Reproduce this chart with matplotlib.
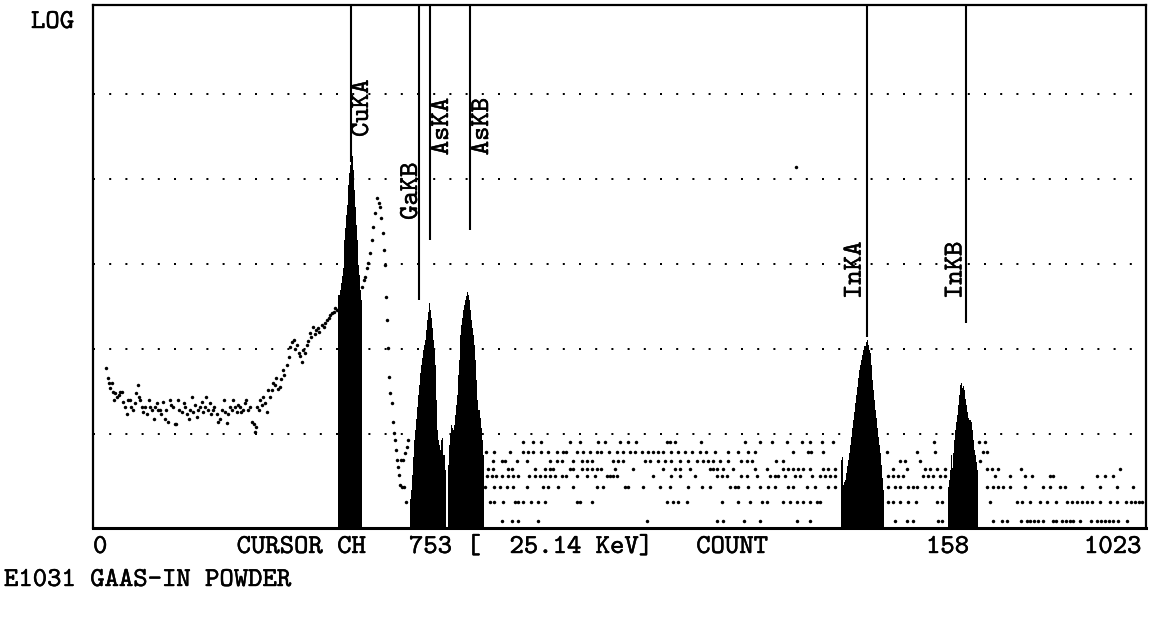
import matplotlib
matplotlib.use('Agg')
import matplotlib.pyplot as plt
import matplotlib.patheffects as pe
from matplotlib.transforms import offset_copy
import numpy as np

# MCA spectrum printout, log counts vs channel (0..1023)
# printer font is a serif monospace -> Computer Modern Typewriter shipped with matplotlib
# (advance 0.525 em, so 19.7 pt gives the 14.3 px character cell of the printout)
MONO = 'cmtt10'
FS = 19.7
INK = [pe.withStroke(linewidth=0.3, foreground='k')]

# filled ROI peaks: first channel + counts per channel
cu_start = 238
cu_counts = [288, 433, 494, 596, 720, 890, 1915, 2650, 3770, 4940, 8500, 11800,
             14600, 17700, 18700, 12800, 7430, 4690, 2880, 1915, 973, 743, 494, 377]
ga_start = 308
ga_counts = [1.7, 2.2, 3.3, 5.4, 8.5, 11, 15, 21, 29, 38, 52, 65, 78, 97, 111, 128,
             167, 219, 272, 348, 286, 232, 177, 128, 97, 65, 25, 11, 8.5, 7.4, 6.5,
             8.5, 9, 5.7, 3.8, 1.9]
as_start = 345
as_counts = [4.3, 7.4, 10.3, 12.8, 11.8, 11.1, 12.8, 16.7, 22, 29, 49, 74, 146, 192,
             232, 288, 329, 377, 418, 470, 430, 377, 288, 219, 177, 146, 111, 74, 43,
             25, 19, 15.4, 11.8, 8.5, 5.7, 2.9]
inka_start = 727
inka_counts = [4.9, 5.4, 2.5, 2.7, 2.9, 3.5, 4.2, 4.9, 6.0, 7.4, 9.2, 11.8, 14.6, 18,
               23, 29, 36, 45, 57, 65, 74, 85, 97, 108, 121, 128, 111, 97, 90, 65, 43,
               33, 25, 19, 15.4, 11.8, 9.2, 7.4, 6.0, 4.3, 3.0, 2.2]
inkb_start = 831
inkb_counts = [2.4, 2.9, 3.8, 5.7, 4.0, 6.0, 8.5, 11.1, 13.8, 16.7, 22, 29, 38, 40, 35,
               37, 33, 26, 22, 18, 15.4, 14.6, 13.8, 11.1, 8.5, 6.5, 5.7, 4.7, 3.8, 2.9]

# dotted (non-ROI) channels: low-energy hump
hump_ch = [13, 15, 16, 17, 18, 19, 20, 21, 23, 25, 26, 28, 29, 31, 33, 34, 36, 37, 39,
           41, 42, 44, 45, 46, 48, 49, 51, 52, 54, 55, 57, 59, 60, 62, 63, 65, 66, 68,
           70, 71, 73, 75, 76, 78, 80, 81, 83, 84, 86, 88, 89, 91, 93, 94, 96, 97, 99,
           101, 102, 104, 106, 107, 109, 110, 112, 114, 115, 117, 118, 120, 121, 123,
           125, 127, 128, 130, 131, 133, 135, 136, 138, 140, 141, 143, 144, 146, 148,
           149, 151, 153, 154, 156, 157, 158, 159, 161, 162, 164, 165, 167, 169, 170,
           172, 174, 175, 177, 178, 180, 182, 183, 185, 186, 188, 190, 191, 193, 195,
           196, 198, 200, 201, 203, 204, 206, 208, 209, 211, 212, 214, 216, 217, 219,
           220, 222, 224, 225, 227, 229, 230, 232, 234, 235, 237,
           261, 263, 264, 266, 267, 269, 271, 272, 274, 276, 278, 279, 280, 282, 283,
           284, 285, 286, 287, 288, 289, 290, 291, 292, 293, 294, 295, 296, 297, 298,
           299, 300, 301, 302, 303, 304, 305, 306]
hump_cnt = [60, 46, 40, 35, 40, 31, 25, 30, 27, 29, 31, 31, 24, 21, 17, 25, 25, 21, 19,
            23, 30, 38, 27, 25, 21, 18, 21, 17, 25, 21, 19, 15, 21, 23, 19, 19, 17, 24,
            15, 19, 14, 25, 22, 21, 13, 13, 25, 19, 18, 23, 21, 17, 15, 19, 27, 18, 22,
            16, 19, 21, 24, 18, 21, 27, 19, 23, 17, 19, 21, 17, 14, 15,
            19, 25, 18, 13.5, 17, 21, 19, 25, 21, 18, 22, 21, 18, 19, 23,
            25, 19, 21, 14, 13, 10.6, 12, 21, 19, 25, 22, 27, 23, 18, 33,
            27, 33, 40, 38, 46, 34, 36, 44, 57, 50, 65, 80, 106, 120, 128,
            100, 111, 90, 82, 70, 97, 90, 110, 125, 154, 140, 181, 150, 167, 175,
            160, 192, 180, 205, 219, 230, 250, 265, 275, 300, 288,
            536, 650, 703, 900, 1027, 1347, 1915, 2725, 3980, 5970, 5200, 4690, 3475, 2315, 1460,
            973, 409, 219, 103, 47, 30, 23, 13.8, 10.3, 8.5, 6.5, 4.9, 4.1, 3.3, 2.5,
            4.9, 2.4, 4.9, 2.4, 6.0, 1.6, 7.0, 8.5]

# high-channel noise, grouped by the count level it sits on
noise_levels = [8.0, 6.1, 4.8, 3.9, 3.2, 2.4, 1.6, 0.95]
noise_ch_80 = [418, 427, 435, 463, 473, 491, 497, 512, 520, 528, 558, 561, 565, 591, 633,
               648, 660, 674, 689, 697, 708, 719, 817, 861, 867]
noise_ch_61 = [382, 390, 405, 418, 423, 427, 435, 442, 451, 457, 460, 470, 476, 483, 490,
               494, 501, 509, 515, 522, 527, 533, 539, 544, 549, 554, 562, 568, 575, 582,
               590, 596, 604, 617, 627, 636, 643, 680, 695, 698, 709, 771, 801, 818, 865, 869]
noise_ch_48 = [389, 397, 400, 412, 422, 444, 451, 456, 466, 475, 480, 485, 505, 510, 515,
               536, 541, 549, 556, 562, 570, 578, 587, 593, 597, 602, 609, 617, 630, 635,
               640, 664, 670, 784, 789, 803, 862]
noise_ch_39 = [384, 389, 403, 407, 429, 439, 444, 447, 463, 466, 475, 480, 485, 490, 494,
               507, 525, 554, 565, 570, 580, 599, 602, 606, 612, 622, 643, 655, 670, 675,
               680, 685, 690, 697, 709, 714, 721, 777, 791, 808, 813, 820, 828, 869, 873,
               879, 902, 998]
noise_ch_32 = [383, 388, 392, 397, 403, 408, 413, 424, 429, 434, 439, 444, 449, 456, 460,
               470, 480, 488, 499, 502, 505, 509, 544, 562, 570, 585, 606, 611, 616, 630,
               635, 645, 658, 663, 665, 672, 682, 687, 699, 706, 711, 716, 721, 772, 777,
               782, 787, 806, 811, 816, 823, 828, 876, 891, 905, 912, 930, 933, 975, 983, 991]
noise_ch_24 = [381, 390, 395, 402, 408, 422, 437, 442, 452, 466, 490, 495, 517, 520, 534,
               551, 561, 578, 592, 599, 619, 624, 627, 636, 648, 656, 663, 675, 680, 694,
               701, 714, 721, 772, 779, 784, 792, 797, 801, 808, 815, 823, 869, 874, 879,
               884, 891, 905, 923, 930, 939, 944, 961, 978, 995, 1010]
noise_ch_16 = [386, 390, 398, 410, 413, 418, 426, 432, 439, 470, 473, 485, 558, 563, 568,
               577, 611, 627, 638, 650, 655, 670, 677, 684, 690, 697, 703, 706, 772, 777,
               784, 792, 800, 820, 825, 871, 898, 903, 910, 920, 927, 936, 946, 951, 956,
               961, 966, 971, 978, 988, 995, 1004, 1008, 1012, 1016, 1019]
noise_ch_10 = [397, 407, 413, 432, 538, 606, 612, 632, 648, 684, 697, 779, 791, 797, 821,
               825, 874, 883, 888, 902, 907, 910, 914, 918, 923, 933, 936, 941, 945, 949,
               952, 959, 970, 975, 979, 983, 987, 991, 996, 1005]
noise_rows = [noise_ch_80, noise_ch_61, noise_ch_48, noise_ch_39,
              noise_ch_32, noise_ch_24, noise_ch_16, noise_ch_10]
stray_ch, stray_cnt = [683], [13840]

# element markers
marker_names = ['CuKA', 'GaKB', 'AsKA', 'AsKB', 'InKA', 'InKB']
marker_ch = [250.6, 316.7, 327.4, 366.3, 751.6, 848.6]
marker_end = [16000, 377, 1915, 2510, 140, 202]
label_base = [31200, 3300, 19000, 19000, 387, 387]   # count where the label starts
label_shift = [17, -2, 18, 18, -6, -5]                # baseline offset from line, px

grid_levels = [1e1, 1e2, 1e3, 1e4, 1e5]
y_lo, y_hi = 0.784, 1.114e6

cursor_ch, cursor_kev, cursor_count = 753, 25.14, 158
sample_name = 'E1031 GAAS-IN POWDER'

W, H = 1149, 619
fig = plt.figure(figsize=(W / 100, H / 100), dpi=100)
ax = fig.add_axes([93 / W, 1 - 528 / H, 1053 / W, 523 / H])
ax.set_xlim(0, 1023)
ax.set_yscale('log')
ax.set_ylim(y_lo, y_hi)
ax.tick_params(which='both', left=False, bottom=False, labelleft=False, labelbottom=False)
for s in ax.spines.values():
    s.set_linewidth(1.6)
ax.spines['bottom'].set_linewidth(2.2)

txt = dict(family=MONO, fontsize=FS, path_effects=INK)

# dotted decade lines
for g in grid_levels:
    ax.axhline(g, color='k', lw=1.44, linestyle=(0, (1, 7.1)), zorder=1)

# ROI peaks, filled
for start, cnts in [(cu_start, cu_counts), (ga_start, ga_counts), (as_start, as_counts),
                    (inka_start, inka_counts), (inkb_start, inkb_counts)]:
    ch = np.arange(start, start + len(cnts))
    ax.fill_between(ch, cnts, 0.5, step='mid', color='k', lw=0, zorder=3)

# dots
dot = dict(marker='o', ms=2.5, mew=0, color='k', ls='none', zorder=2)
ax.plot(hump_ch, hump_cnt, **dot)
for lvl, chs in zip(noise_levels, noise_rows):
    ax.plot(chs, [lvl] * len(chs), **dot)
ax.plot(stray_ch, stray_cnt, **dot)

# marker lines and rotated labels (baseline on the right, reading upward)
ax.vlines(marker_ch, marker_end, y_hi, colors='k', lw=1.5, zorder=4)
for name, x, yb, sh in zip(marker_names, marker_ch, label_base, label_shift):
    tr = offset_copy(ax.transData, fig=fig, x=sh, y=0, units='dots')
    ax.text(x, yb, name, transform=tr, rotation=90, rotation_mode='anchor',
            ha='left', va='baseline', **txt)

fig.text(31 / W, 1 - 28 / H, 'LOG', va='baseline', **txt)

status = ('0' + ' ' * 9 + 'CURSOR CH' + ' ' * 3 + f'{cursor_ch} [' + ' ' * 2
          + f'{cursor_kev:.2f} KeV]' + ' ' * 3 + 'COUNT' + ' ' * 11
          + f'{cursor_count}' + ' ' * 8 + '1023')
fig.text(93 / W, 1 - 553 / H, status, va='baseline', **txt)
fig.text(4 / W, 1 - 586 / H, sample_name, va='baseline', **txt)

fig.savefig('out.png', dpi=100)
